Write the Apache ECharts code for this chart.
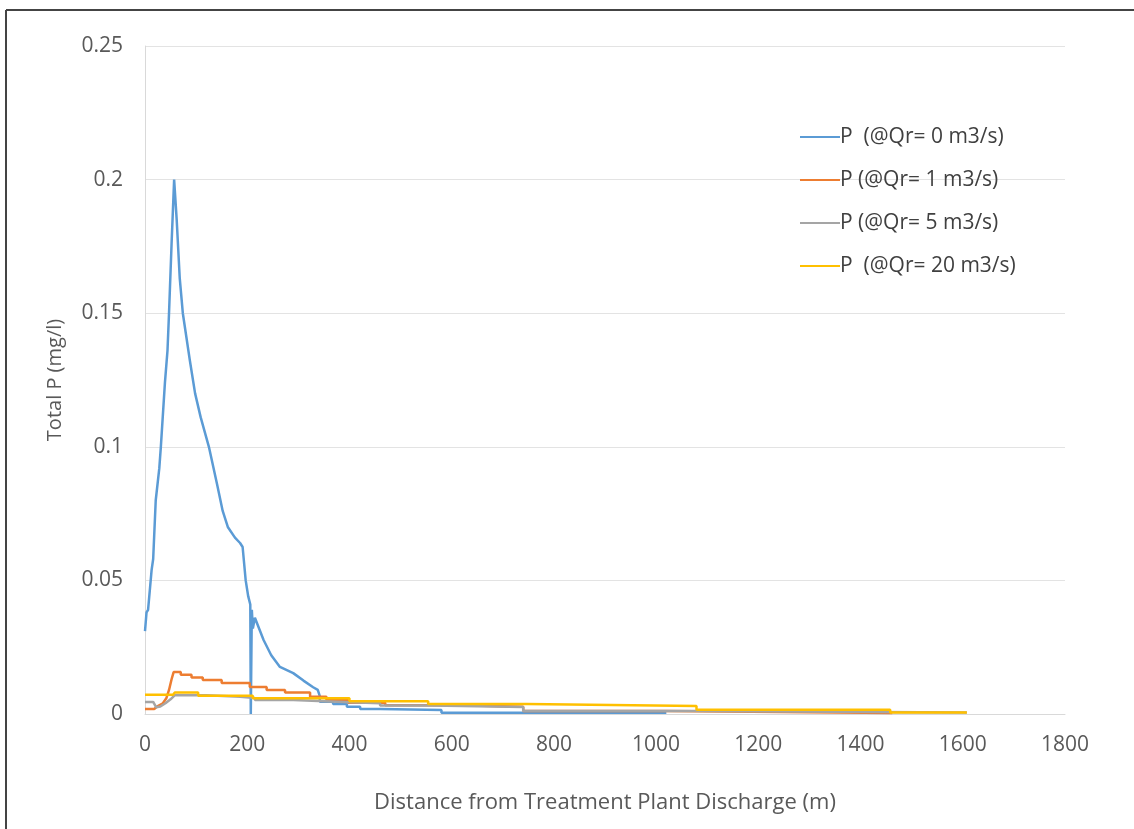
<!DOCTYPE html>
<html>
<head>
<meta charset="utf-8">
<title>Total P vs distance</title>
<script src="https://cdn.jsdelivr.net/npm/echarts@6/dist/echarts.min.js"></script>
<style>
  html, body { margin: 0; padding: 0; background: #fff; }
  #chart { width: 1134px; height: 829px; }
</style>
</head>
<body>
<div id="chart"></div>
<script>
// legend names
var seriesNames = ['P  (@Qr= 0 m3/s)', 'P (@Qr= 1 m3/s)', 'P (@Qr= 5 m3/s)', 'P  (@Qr= 20 m3/s)'];

// [distance m, total P mg/l]
var pQr0 = [
  [0, 0.031], [3, 0.038], [6, 0.039], [13, 0.054], [16, 0.058], [21, 0.08], [28, 0.092],
  [31, 0.1], [39, 0.124], [44, 0.136], [47, 0.15], [52, 0.176], [57, 0.2],
  [62, 0.185], [68, 0.163], [74, 0.15], [88, 0.132], [98, 0.12], [109, 0.111],
  [125, 0.1], [141, 0.086], [152, 0.076], [162, 0.07], [176, 0.066], [186, 0.064],
  [191, 0.0625], [197, 0.05], [202, 0.044], [206, 0.041], [207, 0], [209, 0.039],
  [211, 0.032], [215, 0.036], [232, 0.0277], [247, 0.022], [264, 0.0176], [290, 0.0153],
  [310, 0.0125], [329, 0.010], [338, 0.009], [342, 0.0067], [342, 0.0046], [368, 0.0046],
  [368, 0.0037], [395, 0.0037], [395, 0.0027], [421, 0.0027], [421, 0.0019], [460, 0.0019],
  [460, 0.0015], [580, 0.0015], [580, 0.0005], [1020, 0.0005]
];
var pQr1 = [
  [0, 0.0019], [18, 0.0019], [25, 0.003], [35, 0.004], [42, 0.006], [47, 0.009], [52, 0.013],
  [56, 0.0157], [70, 0.0157], [70, 0.0147], [91, 0.0147], [91, 0.0137], [113, 0.0137],
  [113, 0.0127], [150, 0.0127], [150, 0.0116], [205, 0.0116], [205, 0.0101], [238, 0.0101],
  [238, 0.009], [274, 0.009], [274, 0.008], [323, 0.008], [323, 0.0065], [355, 0.0065],
  [355, 0.0053], [397, 0.0053], [397, 0.0042], [470, 0.0042], [470, 0.0033], [620, 0.0033],
  [620, 0.0027], [740, 0.0027], [740, 0.0011], [1020, 0.0011], [1020, 0.0004], [1462, 0.0004]
];
var pQr5 = [
  [0, 0.0045], [16, 0.0045], [22, 0.0025], [30, 0.0028], [40, 0.004], [50, 0.0055], [58, 0.007],
  [120, 0.007], [120, 0.0065], [186, 0.0065], [186, 0.006], [215, 0.006], [215, 0.0052],
  [290, 0.0052], [290, 0.0046], [375, 0.0046], [375, 0.004], [460, 0.004], [460, 0.0032],
  [560, 0.0032], [560, 0.0026], [740, 0.0026], [740, 0.0011], [1080, 0.0011], [1080, 0.0006],
  [1608, 0.0006]
];
var pQr20 = [
  [0, 0.0072], [55, 0.0072], [58, 0.008], [104, 0.008], [104, 0.0068], [211, 0.0068],
  [211, 0.0059], [400, 0.0059], [400, 0.0048], [554, 0.0048], [554, 0.0037], [747, 0.0037],
  [747, 0.003], [1079, 0.003], [1079, 0.0016], [1458, 0.0016], [1458, 0.0006], [1608, 0.0006]
];
var lineColors = ['#5b9bd5', '#ed7d31', '#a5a5a5', '#ffc000'];

var chart = echarts.init(document.getElementById('chart'));
var font = '"Open Sans", "Noto Sans", sans-serif';
var allData = [pQr0, pQr1, pQr5, pQr20];

chart.setOption({
  backgroundColor: '#fff',
  animation: false,
  textStyle: { fontFamily: font },
  graphic: [
    { type: 'line', shape: { x1: 6, y1: 10, x2: 1134, y2: 10 }, style: { stroke: '#444', lineWidth: 2 } },
    { type: 'line', shape: { x1: 6, y1: 10, x2: 6, y2: 829 }, style: { stroke: '#444', lineWidth: 2 } }
  ],
  grid: { left: 145, right: 69, top: 46, bottom: 115 },
  legend: {
    orient: 'vertical',
    left: 795,
    top: 117,
    icon: 'rect',
    itemWidth: 40,
    itemHeight: 2,
    itemGap: 13,
    textStyle: { fontSize: 21, color: '#404040', fontFamily: font, padding: [0, 0, 0, -5], lineHeight: 30 },
    data: seriesNames
  },
  xAxis: {
    type: 'value',
    min: 0, max: 1800, interval: 200,
    name: 'Distance from Treatment Plant Discharge (m)',
    nameLocation: 'middle',
    nameGap: 78,
    nameTextStyle: { fontSize: 22, color: '#595959' },
    axisLine: { show: true, lineStyle: { color: '#d9d9d9' } },
    axisTick: { show: false },
    axisLabel: { fontSize: 21, color: '#595959', margin: 21, formatter: function (v) { return String(v); } },
    splitLine: { show: false }
  },
  yAxis: {
    type: 'value',
    min: 0, max: 0.25, interval: 0.05,
    name: 'Total P (mg/l)',
    nameLocation: 'middle',
    nameGap: 80,
    nameTextStyle: { fontSize: 20, color: '#595959' },
    axisLine: { show: true, lineStyle: { color: '#d9d9d9' } },
    axisTick: { show: false },
    axisLabel: { fontSize: 21, color: '#595959', margin: 22 },
    splitLine: { lineStyle: { color: '#e3e3e3' } }
  },
  series: seriesNames.map(function (n, i) {
    return {
      name: n,
      type: 'line',
      data: allData[i],
      symbol: 'none',
      color: lineColors[i],
      lineStyle: { width: 2.5, color: lineColors[i] }
    };
  })
});
</script>
</body>
</html>
